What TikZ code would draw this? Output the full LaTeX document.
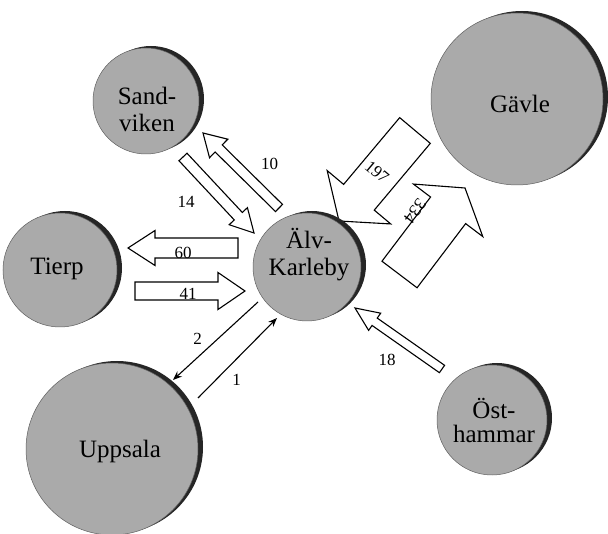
\documentclass[tikz,border=0pt]{standalone}
\usepackage{fontspec}
\setmainfont{Liberation Serif}
\usetikzlibrary{calc,arrows.meta}

\definecolor{cityfill}{RGB}{170,170,170}
\definecolor{cityshade}{RGB}{38,38,38}
\definecolor{cityrim}{RGB}{95,95,95}

\tikzset{
  city/.style={circle, fill=cityfill, draw=cityrim, line width=0.5pt, minimum size=#1, inner sep=0pt},
  citydrop/.style={circle, fill=cityshade, minimum size=#1, inner sep=0pt},
  cityname/.style={font=\fontsize{25}{27}\selectfont, align=center, inner sep=0pt},
  flow/.style={font=\fontsize{17}{17}\selectfont, inner sep=0pt},
  blk/.style={draw=black, fill=white, line width=1.1pt, line join=miter},
  thinflow/.style={draw=black, line width=1.1pt, -{Stealth[length=9pt,width=7pt]}},
}

% block arrow: tail, tip, half shaft width, half head width, head length
\newcommand\blockarrow[5]{%
  \draw[blk] ($(#1)!#3!90:(#2)$)
    -- ($(#2)!#5!(#1)!#3!-90:(#1)$)
    -- ($(#2)!#5!(#1)!#4!-90:(#1)$)
    -- (#2)
    -- ($(#2)!#5!(#1)!#4!90:(#1)$)
    -- ($(#2)!#5!(#1)!#3!90:(#1)$)
    -- ($(#1)!#3!-90:(#2)$) -- cycle;}

\begin{document}
\begin{tikzpicture}[x=1pt, y=-1pt]
\useasboundingbox (0,0) rectangle (608,534);

% ends of the flow arrows
\coordinate (t10) at (279,208);  \coordinate (h10) at (203,133);
\coordinate (t14) at (183,157);  \coordinate (h14) at (254,233);
\coordinate (t60) at (238,248);  \coordinate (h60) at (128,248);
\coordinate (t41) at (135,291);  \coordinate (h41) at (245,291);
\coordinate (t197) at (415,130.5); \coordinate (h197) at (339,221);
\coordinate (t334) at (399.5,274.5); \coordinate (h334) at (465,188);
\coordinate (t18) at (442,369);  \coordinate (h18) at (355,308);
\coordinate (t2) at (258,302);   \coordinate (h2) at (173,380);
\coordinate (t1) at (198,398);   \coordinate (h1) at (277,318);

% block arrows
\blockarrow{t10}{h10}{5pt}{13pt}{22pt}
\blockarrow{t14}{h14}{5.5pt}{12.5pt}{23pt}
\blockarrow{t60}{h60}{10pt}{17.5pt}{27pt}
\blockarrow{t41}{h41}{9pt}{18.5pt}{27pt}
\blockarrow{t197}{h197}{20pt}{41.5pt}{31pt}
\blockarrow{t334}{h334}{22pt}{43.5pt}{28pt}
\blockarrow{t18}{h18}{4.5pt}{10.5pt}{24pt}

% thin arrows
\draw[thinflow] (t2) -- (h2);
\draw[thinflow] (t1) -- (h1);

% towns: dark drop disc first, grey disc on top
\node[citydrop=106pt] (sandviken-drop) at (151,99) {};
\node[city=106pt] (sandviken) at (146,101) {};
\node[citydrop=172pt] (gavle-drop) at (522,97) {};
\node[city=172pt] (gavle) at (517,99) {};
\node[citydrop=114pt] (tierp-drop) at (65,268) {};
\node[city=114pt] (tierp) at (60,270) {};
\node[citydrop=108pt] (alv-drop) at (312,265) {};
\node[city=108pt] (alv) at (307,267) {};
\node[citydrop=172pt] (uppsala-drop) at (117,447) {};
\node[city=172pt] (uppsala) at (112,449) {};
\node[citydrop=110pt] (osthammar-drop) at (497,418) {};
\node[city=110pt] (osthammar) at (492,420) {};

% town names
\node[cityname] (sandviken-name) at (147,109) {Sand-\\viken};
\node[cityname, anchor=base] (gavle-name) at (520,113) {Gävle};
\node[cityname, anchor=base] (tierp-name) at (57,275) {Tierp};
\node[cityname] (alv-name) at (309,255) {Älv-\\Karleby};
\node[cityname, anchor=base] (uppsala-name) at (120,458) {Uppsala};
\node[cityname, font=\fontsize{25}{24}\selectfont] (osthammar-name) at (494,420) {Öst-\\hammar};

% flow figures
\node[flow] (n10) at (269.5,164) {10};
\node[flow] (n14) at (186,202) {14};
\node[flow, anchor=base] (n60) at (183,259) {60};
\node[flow, anchor=base] (n41) at (188,300) {41};
\node[flow, rotate=-40] (n197) at (377,172) {197};
\node[flow, rotate=233] (n334) at (415,211) {334};
\node[flow] (n18) at (387,360) {18};
\node[flow] (n2) at (197.5,339) {2};
\node[flow] (n1) at (236.5,380) {1};
\end{tikzpicture}
\end{document}
